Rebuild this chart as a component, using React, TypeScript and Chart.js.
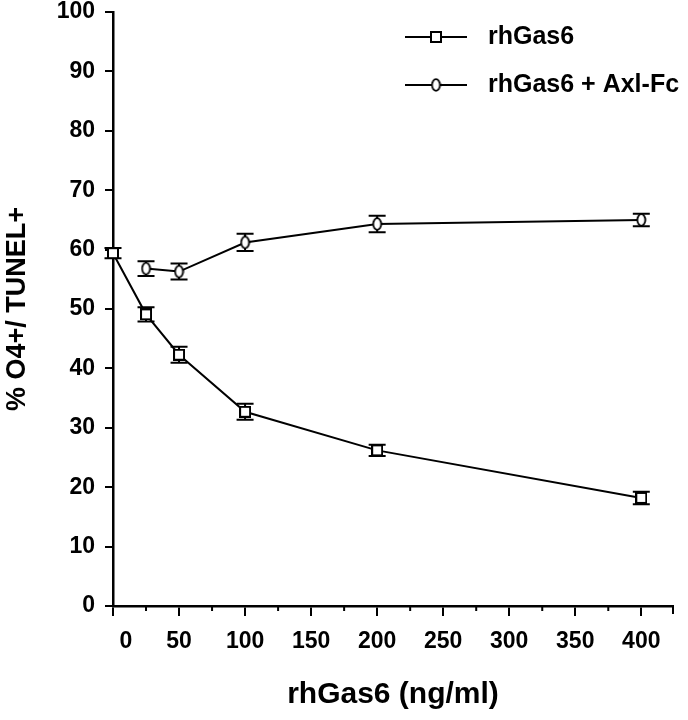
import React, { useEffect, useRef } from "react";
import { Chart, registerables } from "chart.js";

Chart.register(...registerables);

// ---- data ----
const gasDoses = [0, 25, 50, 100, 200, 400];
const gasValues = [59.4, 49.1, 42.3, 32.7, 26.2, 18.2];
const gasErrors = [0.85, 1.2, 1.35, 1.35, 0.95, 1.05];

const axlDoses = [25, 50, 100, 200, 400];
const axlValues = [56.8, 56.3, 61.2, 64.3, 65.0];
const axlErrors = [1.25, 1.35, 1.45, 1.4, 1.05];

const seriesNames = ["rhGas6", "rhGas6 + Axl-Fc"];
const xTickValues = [0, 50, 100, 150, 200, 250, 300, 350, 400];
const xMinorTicks = [25, 75, 125, 175, 225, 275, 325, 375];
const xTitle = "rhGas6 (ng/ml)";
const yTitle = "% O4+/ TUNEL+";

const MAIN_FONT = "'Liberation Sans', Arial, sans-serif";

const markers: { sq: HTMLCanvasElement | null; el: HTMLCanvasElement | null } = { sq: null, el: null };

function makeSquare(): HTMLCanvasElement {
  const c = document.createElement("canvas");
  c.width = 12;
  c.height = 12;
  const ctx = c.getContext("2d")!;
  ctx.fillStyle = "#fff";
  ctx.fillRect(1, 1, 10, 10);
  ctx.strokeStyle = "#000";
  ctx.lineWidth = 2;
  ctx.strokeRect(1, 1, 10, 10);
  return c;
}

function makeEllipse(): HTMLCanvasElement {
  const c = document.createElement("canvas");
  c.width = 11;
  c.height = 14;
  const ctx = c.getContext("2d")!;
  ctx.beginPath();
  ctx.ellipse(5.5, 7, 4, 5.8, 0, 0, Math.PI * 2);
  ctx.fillStyle = "#fff";
  ctx.fill();
  ctx.strokeStyle = "#000";
  ctx.lineWidth = 1.8;
  ctx.stroke();
  return c;
}

const errorBarsPlugin = {
  id: "errorBars",
  beforeDatasetsDraw(chart: any) {
    const { ctx, scales } = chart;
    const xs = scales.x;
    const ys = scales.y;
    const sets = [
      { d: gasDoses, v: gasValues, e: gasErrors },
      { d: axlDoses, v: axlValues, e: axlErrors },
    ];
    ctx.save();
    ctx.strokeStyle = "#000";
    ctx.lineWidth = 2;
    sets.forEach((s) => {
      s.d.forEach((dose, i) => {
        const px = xs.getPixelForValue(dose);
        const top = ys.getPixelForValue(s.v[i] + s.e[i]);
        const bot = ys.getPixelForValue(s.v[i] - s.e[i]);
        ctx.beginPath();
        ctx.moveTo(px, top);
        ctx.lineTo(px, bot);
        ctx.moveTo(px - 8.5, top);
        ctx.lineTo(px + 8.5, top);
        ctx.moveTo(px - 8.5, bot);
        ctx.lineTo(px + 8.5, bot);
        ctx.stroke();
      });
    });
    ctx.restore();
  },
};

const decorPlugin = {
  id: "decor",
  afterDraw(chart: any) {
    const { ctx, scales, chartArea } = chart;
    const xs = scales.x;
    const yb = chartArea.bottom;
    ctx.save();
    ctx.strokeStyle = "#000";
    ctx.lineWidth = 2;
    // minor x ticks
    ctx.beginPath();
    xMinorTicks.forEach((v) => {
      const px = xs.getPixelForValue(v);
      ctx.moveTo(px, yb);
      ctx.lineTo(px, yb + 5);
    });
    // axis end tick and small overhang at origin
    ctx.moveTo(chartArea.right, yb - 1);
    ctx.lineTo(chartArea.right, yb + 8);
    ctx.moveTo(chartArea.left - 4, yb);
    ctx.lineTo(chartArea.left, yb);
    ctx.stroke();

    // legend
    const rows = [
      { y: 37, img: markers.sq, label: seriesNames[0] },
      { y: 85, img: markers.el, label: seriesNames[1] },
    ];
    ctx.font = `bold 25px ${MAIN_FONT}`;
    ctx.fillStyle = "#000";
    ctx.textBaseline = "middle";
    ctx.textAlign = "left";
    rows.forEach((r) => {
      ctx.beginPath();
      ctx.moveTo(405, r.y);
      ctx.lineTo(467, r.y);
      ctx.stroke();
      if (r.img) ctx.drawImage(r.img, 436 - r.img.width / 2, r.y - r.img.height / 2);
      ctx.fillText(r.label, 488, r.y);
    });
    ctx.restore();
  },
};

export default function App() {
  const ref = useRef<HTMLCanvasElement | null>(null);

  useEffect(() => {
    document.body.style.margin = "0";
    const canvas = ref.current!;
    markers.sq = makeSquare();
    markers.el = makeEllipse();

    const chart: any = new Chart(canvas, {
      type: "line",
      data: {
        datasets: [
          {
            label: seriesNames[0],
            data: gasDoses.map((d, i) => ({ x: d, y: gasValues[i] })),
            borderColor: "#000",
            borderWidth: 2,
            pointStyle: markers.sq,
            pointRadius: 6,
            tension: 0,
            clip: false,
          },
          {
            label: seriesNames[1],
            data: axlDoses.map((d, i) => ({ x: d, y: axlValues[i] })),
            borderColor: "#000",
            borderWidth: 2,
            pointStyle: markers.el,
            pointRadius: 6,
            tension: 0,
            clip: false,
          },
        ],
      },
      options: {
        animation: false,
        responsive: false,
        devicePixelRatio: 1,
        layout: { padding: { top: 12, right: 15, left: 0, bottom: 0 } },
        plugins: {
          legend: { display: false },
          tooltip: { enabled: false },
        },
        scales: {
          x: {
            type: "linear",
            min: 0,
            max: 424,
            afterFit: (s: any) => {
              s.height = 114;
              s.paddingLeft = 0;
              s.paddingRight = 0;
            },
            afterBuildTicks: (s: any) => {
              s.ticks = xTickValues.map((v) => ({ value: v }));
            },
            ticks: {
              autoSkip: false,
              maxRotation: 0,
              includeBounds: false,
              color: "#000",
              padding: 12,
              font: { family: MAIN_FONT, size: 23, weight: "bold" },
              callback: (v: any) => (v === 0 ? "    0" : String(v)),
            },
            grid: {
              drawOnChartArea: false,
              drawTicks: true,
              tickLength: 10,
              color: "#000",
              lineWidth: 2,
            },
            border: { display: true, color: "#000", width: 2.5 },
            title: {
              display: true,
              text: xTitle,
              color: "#000",
              font: { family: MAIN_FONT, size: 30, weight: "bold" },
              padding: { top: 0, bottom: 7 },
            },
          },
          y: {
            type: "linear",
            min: 0,
            max: 100,
            afterFit: (s: any) => {
              s.width = 113;
              s.paddingTop = 0;
              s.paddingBottom = 0;
            },
            ticks: {
              stepSize: 10,
              color: "#000",
              padding: 10,
              font: { family: MAIN_FONT, size: 23, weight: "bold" },
            },
            grid: {
              drawOnChartArea: false,
              drawTicks: true,
              tickLength: 8,
              color: "#000",
              lineWidth: 2,
            },
            border: { display: true, color: "#000", width: 2.5 },
            title: {
              display: true,
              text: yTitle,
              color: "#000",
              font: { family: MAIN_FONT, size: 27, weight: "bold" },
              padding: { top: 1, bottom: 0 },
            },
          },
        },
      } as any,
      plugins: [errorBarsPlugin, decorPlugin],
    });

    return () => chart.destroy();
  }, []);

  return (
    <div style={{ position: "absolute", left: 0, top: 0, width: 688, height: 720, background: "#fff" }}>
      <canvas ref={ref} width={688} height={720} style={{ width: 688, height: 720 }} />
    </div>
  );
}
